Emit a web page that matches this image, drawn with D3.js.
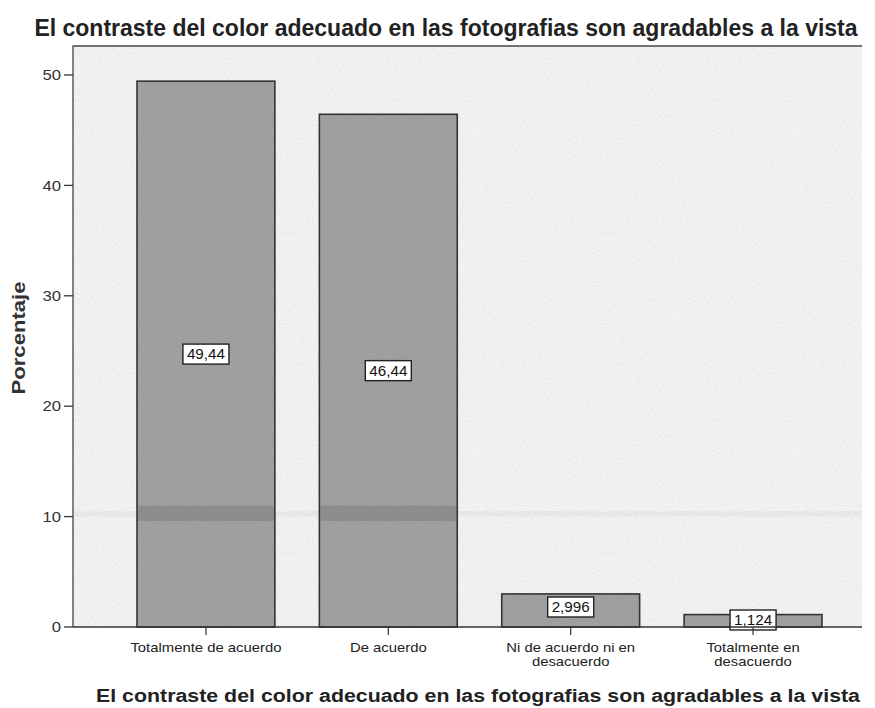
<!DOCTYPE html>
<html>
<head>
<meta charset="utf-8">
<script src="https://cdn.jsdelivr.net/npm/d3@7"></script>
<style>
  body { margin: 0; background: #fff; }
  text { font-family: "Liberation Sans", Arial, sans-serif; }
</style>
</head>
<body>
<div id="chart"></div>
<script>
var categories = [
  ["Totalmente de acuerdo"],
  ["De acuerdo"],
  ["Ni de acuerdo ni en", "desacuerdo"],
  ["Totalmente en", "desacuerdo"]
];
var values = [49.44, 46.44, 2.996, 1.124];
var valueLabels = ["49,44", "46,44", "2,996", "1,124"];
var yTicks = [0, 10, 20, 30, 40, 50];

var width = 875, height = 708;
var plot = { left: 73, top: 46, right: 862, bottom: 627 };

var svg = d3.select("#chart").append("svg")
  .attr("width", width)
  .attr("height", height);

// the scanned text is a bit wider than Liberation, stretch it
function stretch(sel, k) {
  sel.each(function() {
    var len = this.getComputedTextLength();
    d3.select(this)
      .attr("textLength", len * k)
      .attr("lengthAdjust", "spacingAndGlyphs");
  });
}

// speckled texture like the scan
var defs = svg.append("defs");
var filt = defs.append("filter").attr("id", "grain");
filt.append("feTurbulence")
  .attr("type", "fractalNoise")
  .attr("baseFrequency", 0.8)
  .attr("numOctaves", 2)
  .attr("seed", 3);
filt.append("feColorMatrix")
  .attr("values", "0 0 0 0 0  0 0 0 0 0  0 0 0 0 0  0 0 0 0.12 -0.04");
filt.append("feComposite").attr("in2", "SourceGraphic").attr("operator", "in");

var x = d3.scaleBand()
  .domain(d3.range(categories.length))
  .range([137, 822])
  .paddingInner(0.244)
  .paddingOuter(0);

var y = d3.scaleLinear()
  .domain([0, 50])
  .range([plot.bottom, 75]);

// plot background
svg.append("rect")
  .attr("x", plot.left).attr("y", plot.top)
  .attr("width", plot.right - plot.left).attr("height", plot.bottom - plot.top)
  .attr("fill", "#f5f5f5");
svg.append("rect")
  .attr("x", plot.left).attr("y", plot.top)
  .attr("width", plot.right - plot.left).attr("height", plot.bottom - plot.top)
  .attr("fill", "#f5f5f5")
  .attr("filter", "url(#grain)");

// faint scan streak near 10
svg.append("rect")
  .attr("x", plot.left + 1).attr("y", y(10.5))
  .attr("width", plot.right - plot.left - 1).attr("height", y(10) - y(10.5))
  .attr("fill", "#000")
  .attr("opacity", 0.035);

// frame lines (left and top)
svg.append("path")
  .attr("d", "M" + plot.left + "," + plot.bottom + "V" + plot.top + "H" + plot.right)
  .attr("fill", "none")
  .attr("stroke", "#444")
  .attr("stroke-width", 1.3);

// bars
var bars = svg.selectAll(".bar")
  .data(values)
  .enter().append("g")
  .attr("class", "bar");

bars.append("rect")
  .attr("x", function(d, i) { return x(i); })
  .attr("y", function(d) { return y(d); })
  .attr("width", x.bandwidth())
  .attr("height", function(d) { return y(0) - y(d); })
  .attr("fill", "#a2a2a2")
  .attr("stroke", "#333")
  .attr("stroke-width", 1.6);

bars.append("rect")
  .attr("x", function(d, i) { return x(i) + 1; })
  .attr("y", function(d) { return y(d) + 1; })
  .attr("width", x.bandwidth() - 2)
  .attr("height", function(d) { return y(0) - y(d) - 2; })
  .attr("fill", "#a2a2a2")
  .attr("filter", "url(#grain)");

// darker streak across the tall bars
bars.filter(function(d) { return d > 11; }).append("rect")
  .attr("x", function(d, i) { return x(i) + 1; })
  .attr("y", y(11))
  .attr("width", x.bandwidth() - 2)
  .attr("height", y(9.6) - y(11))
  .attr("fill", "#444")
  .attr("opacity", 0.2);

// x axis line and ticks
svg.append("line")
  .attr("x1", plot.left).attr("x2", plot.right)
  .attr("y1", plot.bottom).attr("y2", plot.bottom)
  .attr("stroke", "#333").attr("stroke-width", 1.5);

var xt = svg.selectAll(".xtick")
  .data(categories)
  .enter().append("g")
  .attr("class", "xtick")
  .attr("transform", function(d, i) { return "translate(" + (x(i) + x.bandwidth() / 2) + "," + plot.bottom + ")"; });
xt.append("line").attr("y2", 8).attr("stroke", "#333").attr("stroke-width", 1.2);
xt.selectAll("text")
  .data(function(d) { return d; })
  .enter().append("text")
  .attr("y", function(d, j) { return 25 + j * 14; })
  .attr("text-anchor", "middle")
  .attr("font-size", 13.5)
  .attr("fill", "#222")
  .text(function(d) { return d; })
  .call(stretch, 1.1);

// y axis ticks
var yt = svg.selectAll(".ytick")
  .data(yTicks)
  .enter().append("g")
  .attr("class", "ytick")
  .attr("transform", function(d) { return "translate(" + plot.left + "," + y(d) + ")"; });
yt.append("line").attr("x1", -9).attr("stroke", "#333").attr("stroke-width", 1.3);
yt.append("text")
  .attr("x", -12)
  .attr("dy", "0.36em")
  .attr("text-anchor", "end")
  .attr("font-size", 14.5)
  .attr("fill", "#333")
  .text(function(d) { return d; })
  .call(stretch, 1.15);

// value labels
var lab = bars.append("g")
  .attr("transform", function(d, i) {
    var cy = Math.min((y(d) + y(0)) / 2, y(0) - 20);
    if (d < 2) cy = y(0) - 7;
    return "translate(" + (x(i) + x.bandwidth() / 2) + "," + cy + ")";
  });
lab.append("rect")
  .attr("x", -23).attr("y", -10)
  .attr("width", 46).attr("height", 20)
  .attr("fill", "#fff")
  .attr("stroke", "#222")
  .attr("stroke-width", 1.4);
lab.append("text")
  .attr("dy", "0.36em")
  .attr("text-anchor", "middle")
  .attr("font-size", 14.5)
  .attr("fill", "#111")
  .text(function(d, i) { return valueLabels[i]; })
  .call(stretch, 1.05);

// titles
svg.append("text")
  .attr("x", 446).attr("y", 36)
  .attr("text-anchor", "middle")
  .attr("font-size", 23)
  .attr("font-weight", "bold")
  .attr("fill", "#222")
  .text("El contraste del color adecuado en las fotografias son agradables a la vista");

svg.append("text")
  .attr("x", 478).attr("y", 702)
  .attr("text-anchor", "middle")
  .attr("font-size", 18)
  .attr("font-weight", "bold")
  .attr("fill", "#222")
  .attr("textLength", 764)
  .attr("lengthAdjust", "spacingAndGlyphs")
  .text("El contraste del color adecuado en las fotografias son agradables a la vista");

svg.append("text")
  .attr("transform", "translate(25,338) rotate(-90)")
  .attr("text-anchor", "middle")
  .attr("font-size", 18)
  .attr("font-weight", "bold")
  .attr("fill", "#333")
  .attr("textLength", 113)
  .attr("lengthAdjust", "spacingAndGlyphs")
  .text("Porcentaje");
</script>
</body>
</html>
